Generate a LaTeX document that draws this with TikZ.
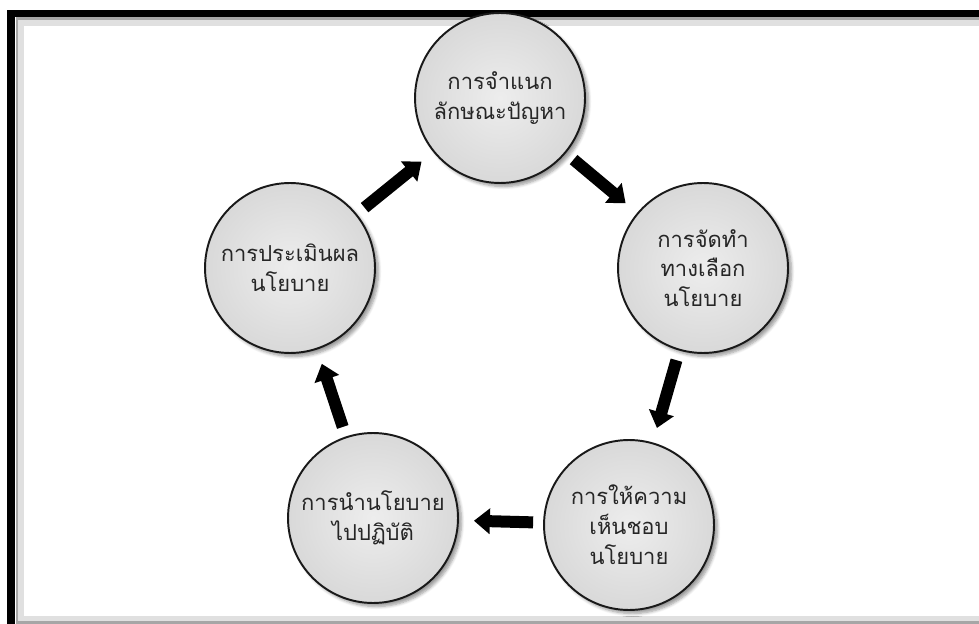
\documentclass[tikz,border=0pt]{standalone}
\usepackage{fontspec}
\newfontfamily\thaifont[Script=Thai]{Loma}
\usetikzlibrary{arrows.meta,shadows.blur}
\tikzset{
  stagecirc/.style = {circle,minimum size=3.4cm,inner sep=0pt,draw=black!90,line width=1.1pt,
                      inner color=gray!14,outer color=gray!30,align=center,
                      font=\thaifont\fontsize{12.5}{17}\selectfont,text=black!85,
                      blur shadow={shadow xshift=0.07cm,shadow yshift=-0.07cm,shadow opacity=40,shadow blur steps=6}},
  flowarr/.style   = {-{Triangle[length=0.32cm,width=0.5cm]},line width=0.24cm,
                      shorten <=0.2cm,shorten >=0.3cm},
  frameline/.style = {line width=0.15cm,black}
}

\begin{document}
\begin{tikzpicture}[x=0.02cm,y=-0.02cm]
  \useasboundingbox (0,0) rectangle (979,624);
  \clip (0,0) rectangle (979,624);
  % outer frame with its inner shading
  \draw[black!12,line width=0.12cm] (21,23) rectangle (985,619);
  \draw[black!35,line width=0.06cm] (17,19) rectangle (985,622);
  \draw[frameline] (11,13.5) rectangle (990,628);
  % the five stages of the cycle
  \node[stagecirc] (identify) at (500,98)  {การจำแนก\\ลักษณะปัญหา};
  \node[stagecirc] (options)  at (703,268) {การจัดทำ\\ทางเลือก\\นโยบาย};
  \node[stagecirc] (approve)  at (629,525) {การให้ความ\\เห็นชอบ\\นโยบาย};
  \node[stagecirc] (implement) at (373,518) {การนำนโยบาย\\ไปปฏิบัติ};
  \node[stagecirc] (evaluate) at (290,268) {การประเมินผล\\นโยบาย};
  \draw[flowarr] (identify) -- (options);
  \draw[flowarr] (options) -- (approve);
  \draw[flowarr] (approve) -- (implement);
  \draw[flowarr] (implement) -- (evaluate);
  \draw[flowarr] (evaluate) -- (identify);
\end{tikzpicture}
\end{document}
